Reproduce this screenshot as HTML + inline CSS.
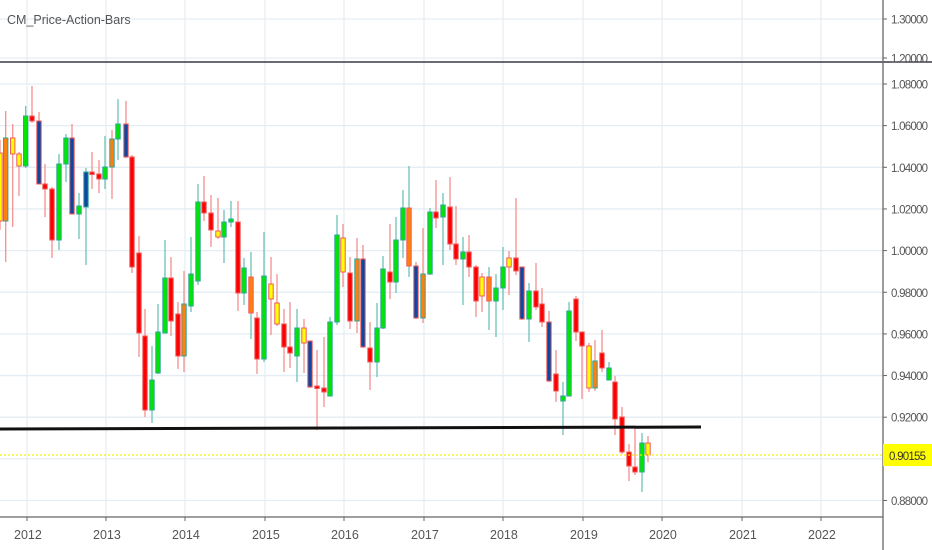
<!DOCTYPE html>
<html><head><meta charset="utf-8"><style>
html,body{margin:0;padding:0;background:#fff;width:932px;height:550px;overflow:hidden}
svg{display:block;font-family:"Liberation Sans",sans-serif}
</style></head><body>
<svg id="s" width="932" height="550" xmlns="http://www.w3.org/2000/svg">
<rect width="932" height="550" fill="#fff"/>
<g id="grid" stroke="#e4edf3" stroke-width="1.3"></g>
<text x="7" y="24" font-size="12.5" fill="#555">CM_Price-Action-Bars</text>
<line x1="0" y1="62" x2="932" y2="62" stroke="#3a3a4a" stroke-width="1.6"/>
<g id="c"></g>
<line x1="0" y1="429" x2="701" y2="427" stroke="#111" stroke-width="3"/>
<line x1="0" y1="455" x2="883" y2="455" stroke="#f5f000" stroke-width="1.3" stroke-dasharray="2,2"/>
<line x1="883" y1="0" x2="883" y2="550" stroke="#666" stroke-width="1.3"/>
<line x1="0" y1="517" x2="883" y2="517" stroke="#666" stroke-width="1.3"/>
<g id="ax" font-size="11.5" fill="#555"></g>
<rect x="883" y="444" width="49" height="22" fill="#ffff00"/>
<text x="889" y="460" font-size="11.5" fill="#333" textLength="37">0.90155</text>
</svg>
<script>
var NS="http://www.w3.org/2000/svg";
function el(p,t,a,txt){var e=document.createElementNS(NS,t);for(var k in a)e.setAttribute(k,a[k]);if(txt)e.textContent=txt;document.getElementById(p).appendChild(e);return e;}
var years=[27,106,185,265,344,424,503,583,662,742,821];
years.forEach(function(x,i){el("grid","line",{x1:x,y1:0,x2:x,y2:517});el("ax","text",{x:x-13,y:539,"font-size":12.5},String(2012+i));el("ax","line",{x1:x,y1:517,x2:x,y2:521,stroke:"#666"});});
var lv=[[19,"1.30000"],[58,"1.20000"]];
for(var i=0;i<11;i++){var y=84+i*41.65;var v=(1.08-i*0.02).toFixed(5);if(i!=9)lv.push([y,v]);else el("grid","line",{x1:0,y1:y,x2:883,y2:y});}
lv.forEach(function(l){el("grid","line",{x1:0,y1:l[0],x2:883,y2:l[0]});el("ax","text",{x:891,y:l[0]+4.5,textLength:37},l[1]);el("ax","line",{x1:883,y1:l[0],x2:887,y2:l[0],stroke:"#666"});});
var C={g:["#00e600","#2fa596","#6cc2b8"],r:["#ff0000","#f05a5a","#f59090"],y:["#ffff00","#f05a5a","#f59090"],o:["#ff7f0e","#2fa596","#f59090"],b:["#0d47a1","#2fa596","#6cc2b8"],B:["#0d47a1","#f05a5a","#f59090"],O:["#ff7f0e","#f05a5a","#6cc2b8"]};
var d=[[0,153,221,140,230,"y"],[5.7,138,221,111,262,"o"],[12.7,138,154,124,227,"y"],[19,154,166,152,196,"y"],[25.7,116,166,106,168,"g"],[32,116,121,86,123,"r"],[39,121,184,112,184,"B"],[45,184,189,164,217,"r"],[52,189,240,187,258,"r"],[59,164,240,154,250,"g"],[66,138,164,134,182,"g"],[72,138,214,124,214,"B"],[79,206,214,193,239,"g"],[86,172,207,168,265,"b"],[92,172,174,152,189,"r"],[99,174,179,160,193,"r"],[105,167,179,136,189,"g"],[112,139,167,130,199,"o"],[118,124,139,99,160,"g"],[126,124,157,101,158,"B"],[132,157,267,155,273,"r"],[139,253,333,236,357,"r"],[145,336,410,309,417,"r"],[152,380,410,346,423,"g"],[158,332,373,304,374,"g"],[165,278,333,240,333,"g"],[171,278,321,257,336,"r"],[178,314,356,302,369,"r"],[184,304,356,271,372,"o"],[191,274,306,237,312,"g"],[198,202,281,184,285,"g"],[204,202,213,176,221,"r"],[211,213,230,195,247,"r"],[218,231,237,198,239,"y"],[224,222,237,210,263,"g"],[231,219,222,201,227,"g"],[238,222,293,201,311,"r"],[244,268,293,258,305,"g"],[251,277,313,252,339,"O"],[257,318,359,312,374,"r"],[264,276,359,232,362,"g"],[271,284,299,257,335,"y"],[277,303,324,274,326,"y"],[284,324,347,309,372,"r"],[290,347,353,302,368,"r"],[297,328,356,309,382,"g"],[304,328,343,319,373,"y"],[310,341,387,341,388,"B"],[317,386,388,350,430,"r"],[324,388,392,337,407,"r"],[330,322,396,317,396,"g"],[337,235,322,215,325,"g"],[343,238,272,224,287,"y"],[350,273,321,257,329,"r"],[357,259,321,238,333,"o"],[363,259,347,245,348,"B"],[370,348,362,322,390,"r"],[377,328,362,303,377,"g"],[383,269,328,256,329,"g"],[390,272,282,224,299,"r"],[396,240,282,217,293,"g"],[403,208,240,190,258,"g"],[409,208,266,166,277,"O"],[416,266,318,262,319,"B"],[423,274,318,228,323,"o"],[430,212,274,208,275,"g"],[436,212,218,180,228,"r"],[443,205,217,193,265,"g"],[450,207,244,177,250,"r"],[456,244,259,206,265,"r"],[463,252,259,237,305,"g"],[469,252,267,235,277,"r"],[476,267,301,265,317,"r"],[482,277,296,273,312,"y"],[489,277,301,267,330,"O"],[496,288,301,274,337,"g"],[503,267,288,247,310,"g"],[509,258,267,251,295,"y"],[516,258,271,198,275,"r"],[522,267,319,267,320,"B"],[529,291,319,283,342,"g"],[536,291,307,263,310,"r"],[542,304,322,288,327,"r"],[549,322,381,311,382,"B"],[556,374,391,350,402,"r"],[563,396,401,382,435,"g"],[569,311,396,302,396,"g"],[576,299,332,296,341,"r"],[582,332,346,332,399,"r"],[589,346,388,343,392,"y"],[595,361,388,340,391,"o"],[602,353,368,330,372,"r"],[609,368,380,362,380,"g"],[615,382,419,376,435,"r"],[622,417,452,407,454,"r"],[629,452,466,444,481,"r"],[635,467,472,428,475,"r"],[642,443,472,433,492,"g"],[648,443,455,436,462,"y"]];
d.forEach(function(c){var k=C[c[5]];
el("c","line",{x1:c[0],y1:c[3],x2:c[0],y2:c[4],stroke:k[2],"stroke-width":1.3});
var h=Math.max(c[2]-c[1],2.5);
el("c","rect",{x:c[0]-2.2,y:c[1],width:4.4,height:h,fill:k[0],stroke:k[1],"stroke-width":1});});
</script>
</body></html>
